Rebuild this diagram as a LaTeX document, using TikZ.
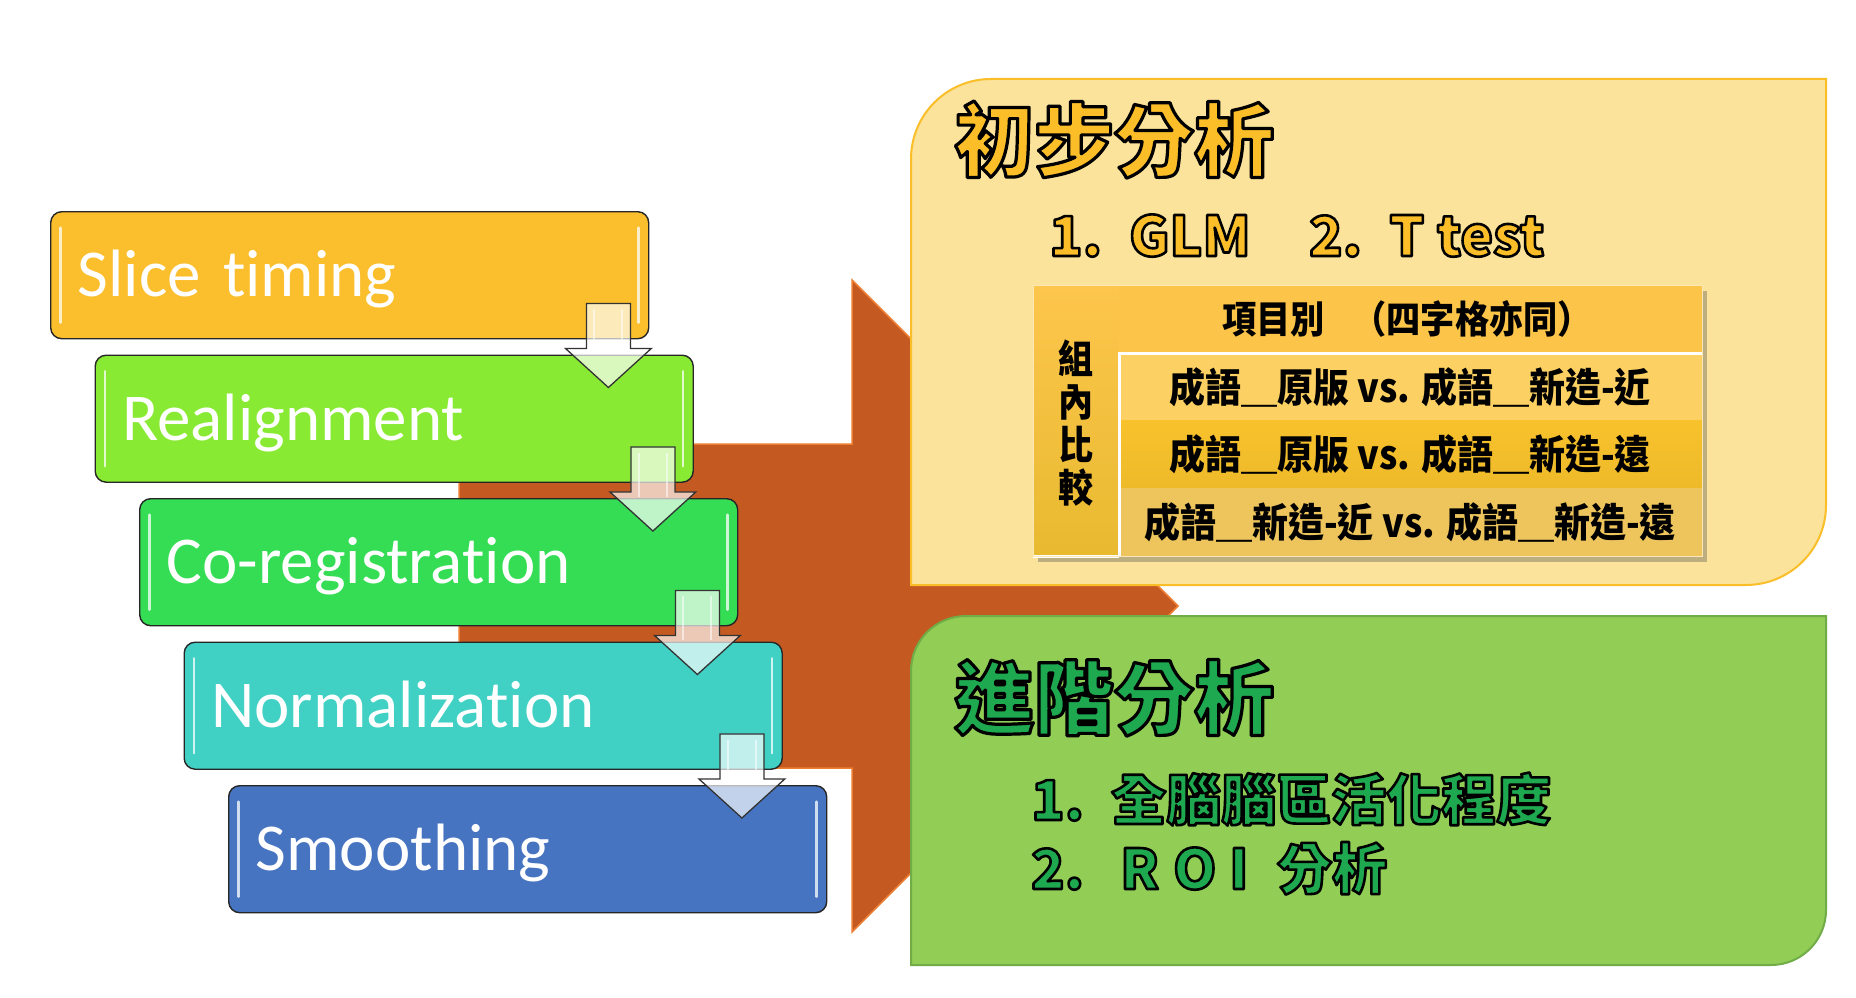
\documentclass[tikz,border=0pt]{standalone}
\usepackage{fontspec}
\setmainfont{Carlito}[Ligatures={NoCommon}]
\newfontfamily\cjk{Noto Sans CJK TC}
\newfontfamily\cjknarrow{Noto Sans CJK TC}[FakeStretch=0.9]
\usetikzlibrary{calc,shadows}

% palette
\definecolor{cslice}{RGB}{251,190,45}
\definecolor{crealign}{RGB}{137,234,52}
\definecolor{ccoreg}{RGB}{53,221,85}
\definecolor{cnorm}{RGB}{64,208,196}
\definecolor{csmooth}{RGB}{70,116,193}
\definecolor{cbig}{RGB}{196,90,34}
\definecolor{cbigedge}{RGB}{237,125,49}
\definecolor{ypanel}{RGB}{251,227,155}
\definecolor{yedge}{RGB}{250,190,40}
\definecolor{gpanel}{RGB}{146,205,86}
\definecolor{gedge}{RGB}{112,173,71}
\definecolor{ytext}{RGB}{251,190,40}
\definecolor{gtext}{RGB}{30,168,80}
\definecolor{thead}{RGB}{252,196,72}
\definecolor{trowa}{RGB}{252,208,98}
\definecolor{trowb}{RGB}{248,194,44}
\definecolor{trowbb}{RGB}{238,186,42}
\definecolor{trowc}{RGB}{237,197,92}
\definecolor{tcoltop}{RGB}{253,198,76}
\definecolor{tcolbot}{RGB}{232,186,48}

% filled text with a black stroked outline (PDF text render mode 2)
\newcommand\outlined[3]{{\color{#1}\special{pdf:literal direct 2 Tr #2 w 0 0 0 RG 1 j}#3}}

% pale block arrow from one step box down into the next
\newcommand\stepflow[2]{%
  \draw[flowarrow] let \p1=(#1.south east), \p2=(#2.north east) in
    ({\x1-63pt},{\y1+36pt}) -- ({\x1-19pt},{\y1+36pt}) -- ({\x1-19pt},{\y1-9pt})
    -- ({\x1+2pt},{\y1-9pt}) -- ({\x1-41pt},{\y2-33pt}) -- ({\x1-84pt},{\y1-9pt})
    -- ({\x1-63pt},{\y1-9pt}) -- cycle;
  \draw[flowshine] let \p1=(#1.south east) in
    ({\x1-55pt},{\y1+30pt}) -- ({\x1-55pt},{\y1-14pt})
    ({\x1-27pt},{\y1+30pt}) -- ({\x1-27pt},{\y1-14pt});}

\tikzset{
  stepbox/.style={draw=black!85, line width=1.4pt, rounded corners=11pt,
    anchor=north west, minimum height=127pt, text width=544pt,
    inner xsep=27pt, inner ysep=0pt, align=left, text height=43pt, text depth=0pt,
    text=white, font=\fontsize{67}{70}\selectfont,
    path picture={
      \draw[white, opacity=0.75, line width=2.5pt, line cap=round]
        ([xshift=10pt,yshift=-16pt]path picture bounding box.north west) --
        ([xshift=10pt,yshift=16pt]path picture bounding box.south west)
        ([xshift=-10pt,yshift=-16pt]path picture bounding box.north east) --
        ([xshift=-10pt,yshift=16pt]path picture bounding box.south east);}},
  flowarrow/.style={fill=white, fill opacity=0.68, draw=black!80, line width=1.3pt},
  flowshine/.style={white, opacity=0.55, line width=2pt},
  bigarrow/.style={fill=cbig, draw=cbigedge, line width=1.5pt},
  ypanelsty/.style={fill=ypanel, draw=yedge, line width=2pt},
  gpanelsty/.style={fill=gpanel, draw=gedge, line width=2pt},
  ptitle/.style={anchor=base west, inner sep=0pt, font=\cjk\bfseries\fontsize{80}{84}\selectfont},
  pitem/.style={anchor=base west, inner sep=0pt, font=\cjk\bfseries\fontsize{55}{60}\selectfont},
  celltext/.style={inner sep=0pt, font=\cjknarrow\bfseries\fontsize{40}{44}\selectfont},
}

\begin{document}
\begin{tikzpicture}[x=1pt,y=-1pt]
\useasboundingbox (0,0) rectangle (1856,998);
\fill[white] (0,0) rectangle (1856,998);

% broad arrow behind everything
\path[bigarrow] (459,444) -- (852,444) -- (852,280) -- (1178,606) -- (852,932)
  -- (852,768) -- (459,768) -- cycle;

% preprocessing steps
\node[stepbox, fill=cslice]   (slice)   at (50,211)    {Slice timing};
\node[stepbox, fill=crealign] (realign) at (94.5,354.5) {Realignment};
\node[stepbox, fill=ccoreg]   (coreg)   at (139,498)   {Co-registration};
\node[stepbox, fill=cnorm]    (norm)    at (183.5,641.5) {Normalization};
\node[stepbox, fill=csmooth]  (smooth)  at (228,785)   {Smoothing};

\stepflow{slice}{realign}
\stepflow{realign}{coreg}
\stepflow{coreg}{norm}
\stepflow{norm}{smooth}

% first-level analysis panel
\path[ypanelsty] (991,79) -- (1826,79) -- (1826,505)
  arc[start angle=0, end angle=-90, radius=80pt] -- (911,585) -- (911,159)
  arc[start angle=180, end angle=90, radius=80pt] -- cycle;

\node[ptitle] (ttl1) at (954,170) {\outlined{ytext}{3.2}{初步分析}};
\node[pitem] (ya) at (1049,256) {\outlined{ytext}{2.6}{1.}};
\node[pitem] (yb) at (1129,256) {\outlined{ytext}{2.6}{GLM}};
\node[pitem] (yc) at (1309,256) {\outlined{ytext}{2.6}{2.}};
\node[pitem] (yd) at (1389,256) {\outlined{ytext}{2.6}{T test}};

% comparison table
\fill[thead, drop shadow={shadow xshift=5pt, shadow yshift=-6pt, opacity=0.35, fill=black!70}]
  (1033,285) rectangle (1702,556);
\shade[top color=tcoltop, bottom color=tcolbot] (1033,285) rectangle (1119,556);
\fill[thead] (1119,285) rectangle (1702,353);
\fill[trowa] (1119,353) rectangle (1702,420);
\shade[top color=trowb, bottom color=trowbb] (1119,420) rectangle (1702,488);
\fill[trowc] (1119,488) rectangle (1702,556);
\draw[white, line width=3pt] (1702,353) -- (1119,353) -- (1119,556);
\draw[white, line width=3pt] (1033,556) -- (1119,556);
\draw[white!60!thead, line width=1pt] (1033,285) rectangle (1702,556);

\node[celltext, font=\cjknarrow\bfseries\fontsize{38}{42}\selectfont] (hdr)
  at (1407,319) {項目別\hspace{28pt}（四字格亦同）};
\node[celltext, align=center, font=\cjknarrow\bfseries\fontsize{39}{43}\selectfont] (grp)
  at (1076,423) {組\\內\\比\\較};
\node[celltext] (ra) at (1410,387) {成語＿原版 vs. 成語＿新造-近};
\node[celltext] (rb) at (1410,454) {成語＿原版 vs. 成語＿新造-遠};
\node[celltext] (rc) at (1410,522) {成語＿新造-近 vs. 成語＿新造-遠};

% advanced analysis panel
\path[gpanelsty] (966,616) -- (1826,616) -- (1826,910)
  arc[start angle=0, end angle=-90, radius=55pt] -- (911,965) -- (911,671)
  arc[start angle=180, end angle=90, radius=55pt] -- cycle;

\node[ptitle] (ttl2) at (954,728) {\outlined{gtext}{3.2}{進階分析}};
\node[pitem] (ga) at (1031,820) {\outlined{gtext}{2.6}{1.}};
\node[pitem] (gb) at (1111,820) {\outlined{gtext}{2.6}{全腦腦區活化程度}};
\node[pitem] (gc) at (1031,889) {\outlined{gtext}{2.6}{2.}};
\node[pitem] (gd) at (1120,889)
  {\outlined{gtext}{2.6}{\makebox[53pt][l]{R}\makebox[56pt][l]{O}\makebox[48pt][l]{I}分析}};
\end{tikzpicture}
\end{document}
